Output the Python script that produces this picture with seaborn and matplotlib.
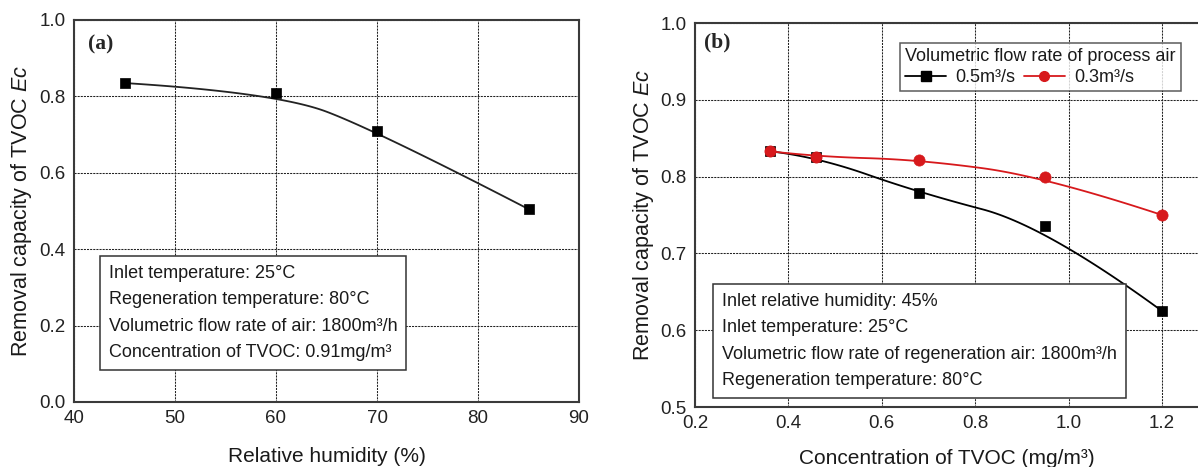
import numpy as np
import pandas as pd
import matplotlib
matplotlib.use("Agg")
import matplotlib.pyplot as plt
from matplotlib.lines import Line2D
import seaborn as sns

# ---------------- data ----------------
rh = [45, 60, 70, 85]
ec_rh = [0.835, 0.81, 0.71, 0.505]

conc = [0.36, 0.46, 0.68, 0.95, 1.20]
ec_05 = [0.833, 0.826, 0.779, 0.736, 0.625]
ec_03 = [0.833, 0.826, 0.822, 0.800, 0.750]

xticks_a = [40, 50, 60, 70, 80, 90]
yticks_a = [0.0, 0.2, 0.4, 0.6, 0.8, 1.0]
xticks_b = [0.2, 0.4, 0.6, 0.8, 1.0, 1.2]
yticks_b = [0.5, 0.6, 0.7, 0.8, 0.9, 1.0]


def bspline2(xs, ys, n=40):
    """Clamped quadratic B-spline using the data as control points
    (the 'B-spline' connection of the original plotting program)."""
    P = np.column_stack([xs, ys]).astype(float)
    m = len(P)
    out = []
    t = np.linspace(0, 1, n)[:, None]
    for k in range(m - 2):
        s = P[0] if k == 0 else (P[k] + P[k + 1]) / 2
        c = P[k + 1]
        e = P[m - 1] if k == m - 3 else (P[k + 1] + P[k + 2]) / 2
        seg = (1 - t) ** 2 * s + 2 * (1 - t) * t * c + t ** 2 * e
        out.append(seg if k == 0 else seg[1:])
    arr = np.vstack(out)
    return arr[:, 0], arr[:, 1]


sns.set_style("white")
plt.rcParams['font.family'] = ['Liberation Sans', 'DejaVu Sans']
plt.rcParams['mathtext.fontset'] = 'custom'
plt.rcParams['mathtext.rm'] = 'Liberation Sans'
plt.rcParams['mathtext.it'] = 'Liberation Sans:italic'

W, H = 1198, 467
fig = plt.figure(figsize=(W / 100, H / 100), dpi=100)
ax1 = fig.add_axes([74 / W, 1 - 402 / H, (579 - 74) / W, (402 - 20) / H])
ax2 = fig.add_axes([695 / W, 1 - 407 / H, (W - 695) / W, (407 - 23) / H])

grid_kw = dict(color='#222222', linestyle=(0, (2, 1)), linewidth=0.75)
tick_fs = 13.5
xlabel_fs = 15
ylabel_fs = 15.5
box_fs = 13
txt_col = '#1a1a1a'


def style_axes(ax):
    for s in ax.spines.values():
        s.set_color('#3a3a3a')
        s.set_linewidth(1.5)
    ax.grid(True, **grid_kw)
    ax.set_axisbelow(True)
    ax.tick_params(axis='both', labelsize=tick_fs, length=0, pad=6, colors='#222222')


# ---------------- panel (a) ----------------
bx, by = bspline2(rh, ec_rh)
sns.lineplot(x=bx, y=by, sort=False, estimator=None, color='#222222', linewidth=1.3, ax=ax1)
sns.scatterplot(x=rh, y=ec_rh, marker='s', s=60, color='black', edgecolor='black',
                linewidth=0.5, zorder=4, ax=ax1)
ax1.set_xlim(40, 90)
ax1.set_ylim(0.0, 1.0)
ax1.set_xticks(xticks_a)
ax1.set_yticks(yticks_a)
ax1.set_xticklabels([str(v) for v in xticks_a])
ax1.set_yticklabels([f"{v:.1f}" for v in yticks_a])
style_axes(ax1)
ax1.set_xlabel('Relative humidity (%)', fontsize=xlabel_fs, labelpad=14, color=txt_col)
ax1.set_ylabel('Removal capacity of TVOC $\\it{Ec}$', fontsize=ylabel_fs, labelpad=4, color=txt_col)
ax1.text(0.027, 0.935, '(a)', transform=ax1.transAxes, fontsize=15.5,
         fontweight='bold', family='Liberation Serif', va='center', ha='left')
txt_a = ('Inlet temperature: 25\u00b0C\n'
         'Regeneration temperature: 80\u00b0C\n'
         'Volumetric flow rate of air: 1800m\u00b3/h\n'
         'Concentration of TVOC: 0.91mg/m\u00b3')
ax1.text(0.069, 0.107, txt_a, transform=ax1.transAxes, fontsize=box_fs,
         va='bottom', ha='left', linespacing=1.72, color=txt_col,
         bbox=dict(boxstyle='square,pad=0.5', fc='white', ec='#333333', lw=1.1))

# ---------------- panel (b) ----------------
red = '#d7191c'
b5x, b5y = bspline2(conc, ec_05)
b3x, b3y = bspline2(conc, ec_03)
sns.lineplot(x=b5x, y=b5y, sort=False, estimator=None, color='black', linewidth=1.3, ax=ax2)
sns.lineplot(x=b3x, y=b3y, sort=False, estimator=None, color=red, linewidth=1.3, ax=ax2)
sns.scatterplot(x=conc, y=ec_05, marker='s', s=60, color='black', edgecolor='black',
                linewidth=0.5, zorder=4, ax=ax2)
sns.scatterplot(x=conc, y=ec_03, marker='o', s=65, color=red, edgecolor=red,
                linewidth=0.5, zorder=5, ax=ax2)
ax2.set_xlim(0.2, 0.2 + (W - 695) / (1162 - 695))
ax2.set_ylim(0.5, 1.0)
ax2.set_xticks(xticks_b)
ax2.set_yticks(yticks_b)
ax2.set_xticklabels([f"{v:.1f}" for v in xticks_b])
ax2.set_yticklabels([f"{v:.1f}" for v in yticks_b])
style_axes(ax2)
ax2.spines['right'].set_visible(False)
ax2.set_xlabel('Concentration of TVOC (mg/m\u00b3)', fontsize=xlabel_fs, labelpad=12, color=txt_col)
ax2.set_ylabel('Removal capacity of TVOC $\\it{Ec}$', fontsize=ylabel_fs, labelpad=3, color=txt_col)
ax2.text(0.018, 0.948, '(b)', transform=ax2.transAxes, fontsize=15.5,
         fontweight='bold', family='Liberation Serif', va='center', ha='left')
txt_b = ('Inlet relative humidity: 45%\n'
         'Inlet temperature: 25\u00b0C\n'
         'Volumetric flow rate of regeneration air: 1800m\u00b3/h\n'
         'Regeneration temperature: 80\u00b0C')
ax2.text(0.054, 0.047, txt_b, transform=ax2.transAxes, fontsize=box_fs,
         va='bottom', ha='left', linespacing=1.72, color=txt_col,
         bbox=dict(boxstyle='square,pad=0.5', fc='white', ec='#333333', lw=1.1))

handles = [Line2D([], [], color='black', marker='s', markersize=7, lw=1.3),
           Line2D([], [], color=red, marker='o', markersize=7, lw=1.3)]
leg = ax2.legend(handles, ['0.5m\u00b3/s', '0.3m\u00b3/s'],
                 title='Volumetric flow rate of process air', ncol=2,
                 fontsize=box_fs, title_fontsize=box_fs,
                 loc='upper left', bbox_to_anchor=(0.4076, 0.948),
                 frameon=True, fancybox=False, edgecolor='#333333',
                 handlelength=2.25, columnspacing=0.5, handletextpad=0.5,
                 borderpad=0.3, labelspacing=0.2, borderaxespad=0.0)
leg.get_frame().set_linewidth(1.1)
leg._legend_box.align = 'left'
for t in leg.get_texts():
    t.set_color(txt_col)
leg.get_title().set_color(txt_col)

fig.savefig('out.png', dpi=100)
